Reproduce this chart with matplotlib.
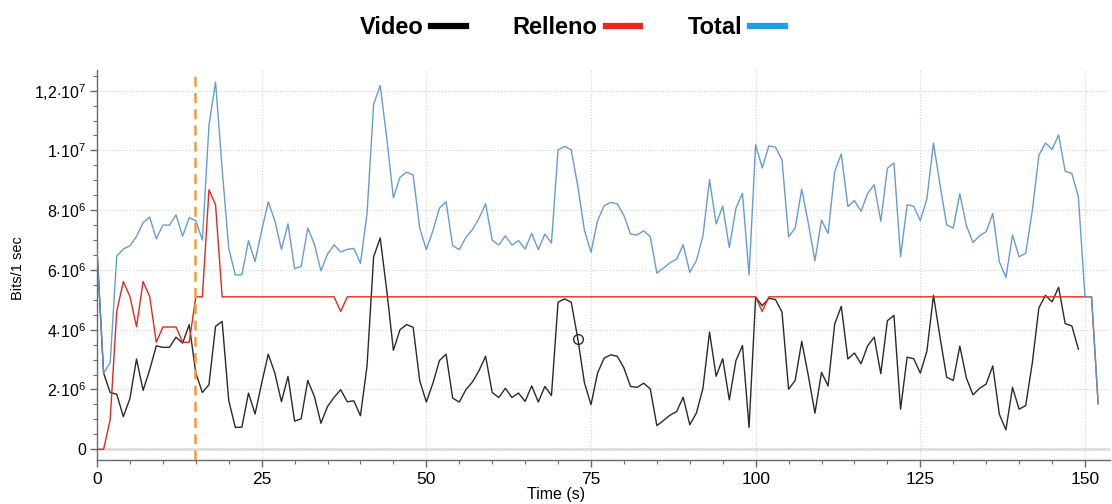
import numpy as np
import matplotlib
matplotlib.use('Agg')
import matplotlib.pyplot as plt
from matplotlib.lines import Line2D
from matplotlib.ticker import MultipleLocator, FuncFormatter

plt.rcParams['font.family'] = ['Liberation Sans', 'DejaVu Sans']
plt.rcParams['mathtext.fontset'] = 'custom'
plt.rcParams['mathtext.rm'] = 'Liberation Sans'
plt.rcParams['mathtext.it'] = 'Liberation Sans'

# region ###### DATA (values in millions of bits per second) ######
time_s = np.arange(0, 153)

video = [
    6.67, 2.55, 1.90, 1.84, 1.09, 1.70, 3.02, 1.97, 2.66, 3.46,
    3.41, 3.41, 3.75, 3.55, 4.17, 2.55, 1.90, 2.16, 4.11, 4.28,
    1.63, 0.73, 0.74, 1.88, 1.18, 2.21, 3.18, 2.55, 1.59, 2.44,
    0.94, 1.02, 2.30, 1.77, 0.87, 1.43, 1.74, 1.99, 1.59, 1.62,
    1.12, 2.79, 6.44, 7.07, 5.30, 3.31, 4.00, 4.17, 4.08, 2.29,
    1.58, 2.21, 2.97, 3.18, 1.71, 1.58, 1.99, 2.25, 2.63, 3.11,
    1.90, 1.73, 2.04, 1.73, 1.88, 1.60, 2.12, 1.58, 2.10, 1.80,
    4.92, 5.03, 4.92, 3.70, 2.23, 1.49, 2.55, 3.05, 3.16, 3.11,
    2.72, 2.10, 2.07, 2.21, 2.02, 0.79, 0.96, 1.14, 1.26, 1.74,
    0.82, 1.21, 2.04, 3.92, 2.44, 3.03, 1.65, 2.96, 3.47, 0.73,
    5.09, 4.80, 5.05, 5.01, 4.59, 2.01, 2.30, 3.61, 2.46, 1.21,
    2.57, 2.12, 4.19, 4.78, 3.02, 3.22, 2.86, 3.46, 3.75, 2.53,
    4.30, 4.48, 1.34, 3.08, 3.03, 2.55, 3.28, 5.15, 3.74, 2.41,
    2.30, 3.45, 2.38, 1.82, 2.04, 2.18, 2.79, 1.17, 0.65, 2.07,
    1.34, 1.46, 2.88, 4.73, 5.15, 4.93, 5.42, 4.20, 4.13, 3.35,
    np.nan, np.nan, np.nan,
]

relleno = [
    0.00, 0.00, 0.99, 4.62, 5.61, 5.11, 4.10, 5.61, 5.11, 3.58,
    4.09, 4.09, 4.09, 3.58, 3.58, 5.10, 5.10, 8.68, 8.18, 5.10,
    5.10, 5.10, 5.10, 5.10, 5.10, 5.10, 5.10, 5.10, 5.10, 5.10,
    5.10, 5.10, 5.10, 5.10, 5.10, 5.10, 5.10, 4.61, 5.10, 5.10,
    5.10, 5.10, 5.10, 5.10, 5.10, 5.10, 5.10, 5.10, 5.10, 5.10,
    5.10, 5.10, 5.10, 5.10, 5.10, 5.10, 5.10, 5.10, 5.10, 5.10,
    5.10, 5.10, 5.10, 5.10, 5.10, 5.10, 5.10, 5.10, 5.10, 5.10,
    5.10, 5.10, 5.10, 5.10, 5.10, 5.10, 5.10, 5.10, 5.10, 5.10,
    5.10, 5.10, 5.10, 5.10, 5.10, 5.10, 5.10, 5.10, 5.10, 5.10,
    5.10, 5.10, 5.10, 5.10, 5.10, 5.10, 5.10, 5.10, 5.10, 5.10,
    5.10, 4.61, 5.10, 5.10, 5.10, 5.10, 5.10, 5.10, 5.10, 5.10,
    5.10, 5.10, 5.10, 5.10, 5.10, 5.10, 5.10, 5.10, 5.10, 5.10,
    5.10, 5.10, 5.10, 5.10, 5.10, 5.10, 5.10, 5.10, 5.10, 5.10,
    5.10, 5.10, 5.10, 5.10, 5.10, 5.10, 5.10, 5.10, 5.10, 5.10,
    5.10, 5.10, 5.10, 5.10, 5.10, 5.10, 5.10, 5.10, 5.10, 5.10,
    5.10, 5.10, 1.52,
]

total = [
    6.67, 2.55, 2.89, 6.46, 6.70, 6.81, 7.12, 7.58, 7.77, 7.04,
    7.50, 7.50, 7.84, 7.13, 7.75, 7.65, 7.00, 10.84, 12.29, 9.38,
    6.73, 5.83, 5.84, 6.98, 6.28, 7.31, 8.28, 7.65, 6.69, 7.54,
    6.04, 6.12, 7.40, 6.87, 5.97, 6.53, 6.84, 6.60, 6.69, 6.72,
    6.22, 7.89, 11.54, 12.17, 10.40, 8.41, 9.10, 9.27, 9.18, 7.39,
    6.68, 7.31, 8.07, 8.28, 6.81, 6.68, 7.09, 7.35, 7.73, 8.21,
    7.00, 6.83, 7.14, 6.83, 6.98, 6.70, 7.22, 6.68, 7.20, 6.90,
    10.02, 10.13, 10.02, 8.80, 7.33, 6.59, 7.65, 8.15, 8.26, 8.21,
    7.82, 7.20, 7.17, 7.31, 7.12, 5.89, 6.06, 6.24, 6.36, 6.84,
    5.92, 6.31, 7.14, 9.02, 7.54, 8.13, 6.75, 8.06, 8.57, 5.83,
    10.19, 9.41, 10.15, 10.11, 9.69, 7.11, 7.40, 8.71, 7.56, 6.31,
    7.67, 7.22, 9.29, 9.88, 8.12, 8.32, 7.96, 8.56, 8.85, 7.63,
    9.40, 9.58, 6.44, 8.18, 8.13, 7.65, 8.38, 10.25, 8.84, 7.51,
    7.40, 8.55, 7.48, 6.92, 7.14, 7.28, 7.89, 6.27, 5.75, 7.17,
    6.44, 6.56, 7.98, 9.83, 10.25, 10.03, 10.52, 9.30, 9.23, 8.45,
    5.10, 5.10, 1.52,
]

marker_time = 73      # highlighted sample
event_time = 14.9     # dashed vertical marker
# endregion

video = np.array(video) * 1e6
relleno = np.array(relleno) * 1e6
total = np.array(total) * 1e6

fig = plt.figure(figsize = (11.12, 5.04), dpi = 100)
ax = fig.add_axes([97 / 1112, 1 - 460 / 504, 1013 / 1112, 390 / 504])

# region ###### GRID & BASELINE ######
ax.grid(True, which = 'major', color = '#d4d4d4', linestyle = ':', linewidth = 0.8)
ax.axhline(0, color = '#e2e2e2', linewidth = 2.2, zorder = 1)
# endregion

# region ###### SERIES ######
ax.plot(time_s, video, color = '#2a2a2a', linewidth = 1.0, zorder = 3)
ax.plot(time_s, relleno, color = '#e8261e', linewidth = 1.0, zorder = 4)
ax.plot(time_s, total, color = '#5e96d6', linewidth = 1.0, zorder = 5, alpha = 0.95)
ax.plot(marker_time, video[marker_time], 'o', markerfacecolor = 'none', markeredgecolor = '#2a2a2a',
        markersize = 7, markeredgewidth = 1.0, zorder = 6)
ax.axvline(event_time, color = '#f39a3a', linewidth = 1.8, linestyle = (0, (4, 2.5)), zorder = 6)
# endregion

# region ###### AXES ######
ax.set_xlim(0, 153.8)
ax.set_ylim(-0.36e6, 12.69e6)
ax.xaxis.set_major_locator(MultipleLocator(25))
ax.xaxis.set_minor_locator(MultipleLocator(5))
ax.yaxis.set_major_locator(MultipleLocator(2e6))
ax.yaxis.set_minor_locator(MultipleLocator(0.5e6))


def sci_label(v, pos):
    if v == 0:
        return '0'
    exp = int(np.floor(np.log10(abs(v)) + 1e-9))
    mant = v / 10 ** exp
    mant_txt = ('%g' % round(mant, 2)).replace('.', '{,}')
    return r'$%s{\cdot}10^{%d}$' % (mant_txt, exp)


ax.yaxis.set_major_formatter(FuncFormatter(sci_label))
for side in ['top', 'right']:
    ax.spines[side].set_visible(False)
for side in ['left', 'bottom']:
    ax.spines[side].set_color('#6a6a6a')
    ax.spines[side].set_linewidth(1.0)
ax.tick_params(axis = 'both', which = 'major', length = 5, color = '#6a6a6a', width = 1.0)
ax.tick_params(axis = 'both', which = 'minor', length = 3, color = '#6a6a6a', width = 0.8)
ax.tick_params(axis = 'x', labelsize = 12.5, pad = 4)
ax.tick_params(axis = 'y', labelsize = 11.5, pad = 3)

fig.text(18 / 1112, 1 - 268 / 504, 'Bits/1 sec', rotation = 90, ha = 'center', va = 'center', fontsize = 10.5)
fig.text(556 / 1112, 1 - 494 / 504, 'Time (s)', ha = 'center', va = 'center', fontsize = 11.5)
# endregion

# region ###### LEGEND ######
handles = [Line2D([], [], color = '#000000', linewidth = 4.5),
           Line2D([], [], color = '#e8261e', linewidth = 4.5),
           Line2D([], [], color = '#1f9df0', linewidth = 4.5)]
fig.legend(handles, ['Video', 'Relleno', 'Total'], loc = 'center', bbox_to_anchor = (572 / 1112, 1 - 28 / 504),
           ncol = 3, markerfirst = False, frameon = False, handlelength = 1.45, handletextpad = 0.35,
           columnspacing = 2.0, prop = {'family': 'Liberation Sans', 'weight': 'bold', 'size': 17})
# endregion

plt.savefig('out.png', dpi = 100)
